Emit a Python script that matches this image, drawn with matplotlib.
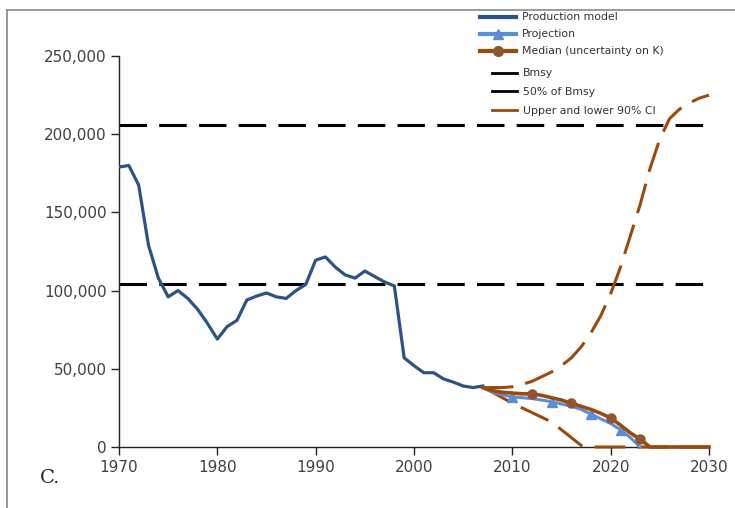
import matplotlib.pyplot as plt
from matplotlib.lines import Line2D

# Biomass series (tonnes)
model_years = list(range(1970, 2008))
model_biomass = [179000, 180000, 167500, 129000, 108000, 96000, 100000, 95000, 88000, 79000,
                 69000, 77000, 81000, 94000, 96500, 98500, 96000, 95000, 100000, 104000,
                 119500, 121500, 115000, 110000, 108000, 112500, 109000, 105500, 103000, 57000,
                 52000, 47500, 47500, 43500, 41500, 39000, 38000, 39000]

proj_years = list(range(2007, 2024))
proj_biomass = [38000, 35000, 33500, 32000, 31500, 31000, 30000, 29000, 27500, 26000,
                24000, 21000, 18000, 15000, 11000, 6000, 0]

ci_years = list(range(2007, 2031))
median = [38000, 36000, 35000, 34500, 34000, 34000, 33000, 31500, 30000, 28000,
          26000, 24000, 21500, 18500, 14000, 9000, 5000, 0, 0, 0, 0, 0, 0, 0]
upper_ci = [38000, 38000, 38000, 38500, 40000, 42000, 45000, 48000, 52000, 57000,
            64000, 73000, 84000, 98000, 115000, 135000, 155000, 178000, 197000, 210000,
            216000, 220000, 223000, 225000]
lower_ci = [38000, 35000, 31500, 28000, 25000, 22000, 19000, 16000, 11000, 6000,
            1000, 0, 0, 0, 0, 0, 0, 0, 0, 0, 0, 0, 0, 0]

bmsy = 206000
half_bmsy = 104500

c_model = '#2d5286'
c_proj = '#5b8ed6'
c_med = '#9c4a0c'
c_dot = '#8f5533'
txt = '#404040'

fig = plt.figure(figsize=(7.35, 5.08), dpi=100)
ax = fig.add_axes([119/735, 1-447/508, 590/735, 391/508])

ax.plot([1970, 2030], [bmsy, bmsy], color='black', lw=2.2, dashes=(9, 4), zorder=2)
ax.plot([1970, 2030], [half_bmsy, half_bmsy], color='black', lw=2.2, dashes=(9, 4), zorder=2)

ax.plot(model_years, model_biomass, color=c_model, lw=2.3, zorder=4)
ax.plot(ci_years, upper_ci, color=c_med, lw=2.2, dashes=(10, 4), zorder=3, clip_on=False)
ax.plot(ci_years, lower_ci, color=c_med, lw=2.2, dashes=(10, 4), zorder=3, clip_on=False)
ax.plot(proj_years, proj_biomass, color=c_proj, lw=2.2, marker='^', ms=7,
        markevery=[3, 7, 11, 14], zorder=5, clip_on=False)
ax.plot(ci_years, median, color=c_med, lw=2.6, zorder=6, clip_on=False)
ax.plot([ci_years[i] for i in (5, 9, 13, 16)], [median[i] for i in (5, 9, 13, 16)],
        'o', color=c_dot, ms=6.5, zorder=7)

ax.set_xlim(1970, 2030)
ax.set_ylim(0, 250000)
ax.set_xticks(range(1970, 2031, 10))
ax.set_yticks(range(0, 250001, 50000))
ax.yaxis.set_major_formatter(plt.FuncFormatter(lambda v, p: f'{int(v):,}'))
for s in ('top', 'right'):
    ax.spines[s].set_visible(False)
for s in ('left', 'bottom'):
    ax.spines[s].set_color('#222222')
    ax.spines[s].set_linewidth(1.0)
ax.tick_params(direction='out', length=6, width=1, color='#222222', labelcolor=txt,
               labelsize=11, pad=3)
for lab in ax.get_xticklabels() + ax.get_yticklabels():
    lab.set_family('DejaVu Sans')

# legend: long handles for the first three entries, short ones for the rest
fs = 7.8
long_h = [
    Line2D([], [], color=c_model, lw=3),
    Line2D([], [], color=c_proj, lw=3, marker='^', ms=7),
    Line2D([], [], color=c_med, lw=3, marker='o', mfc=c_dot, mec=c_dot, ms=7),
]
long_l = ['Production model', 'Projection', 'Median (uncertainty on K)']
short_h = [
    Line2D([], [], color='black', lw=2),
    Line2D([], [], color='black', lw=2),
    Line2D([], [], color=c_med, lw=2),
]
short_l = ['Bmsy', '50% of Bmsy', 'Upper and lower 90% CI']

leg1 = fig.legend(long_h, long_l, loc='upper left', bbox_to_anchor=(476/735, 1-8/508),
                  frameon=False, handlelength=3.3, handletextpad=0.5,
                  labelspacing=0.65, borderaxespad=0, prop={'family': 'DejaVu Sans', 'size': fs})
leg2 = fig.legend(short_h, short_l, loc='upper left', bbox_to_anchor=(488/735, 1-64/508),
                  frameon=False, handlelength=2.3, handletextpad=0.5,
                  labelspacing=0.8, borderaxespad=0, prop={'family': 'DejaVu Sans', 'size': fs})
for lg in (leg1, leg2):
    for t in lg.get_texts():
        t.set_color('#333333')

fig.text(40/735, 1-478/508, 'C.', family='DejaVu Serif', fontsize=14, color='#222222',
         va='center', ha='left')

fig.add_artist(Line2D([7/735, 1], [1-10/508, 1-10/508], color='#8a8a8a', lw=1.2))
fig.add_artist(Line2D([7/735, 7/735], [0, 1-10/508], color='#8a8a8a', lw=1.2))

fig.savefig('out.png', dpi=100)
